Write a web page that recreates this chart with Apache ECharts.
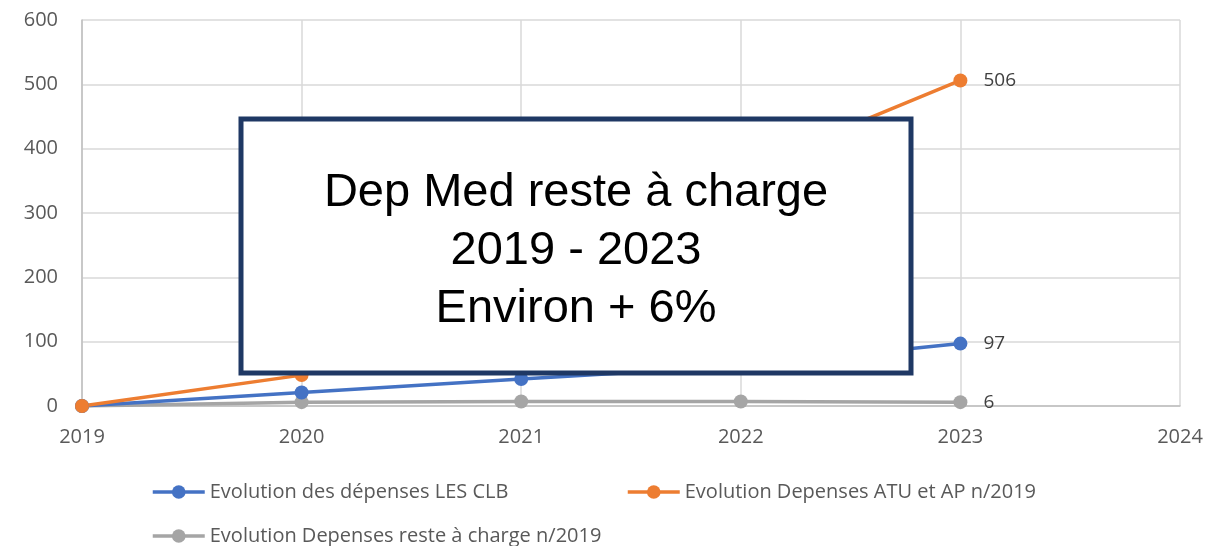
<!DOCTYPE html>
<html>
<head>
<meta charset="utf-8">
<script src="https://cdn.jsdelivr.net/npm/echarts@6/dist/echarts.min.js"></script>
<style>
  html, body { margin: 0; padding: 0; background: #fff; }
  #chart { width: 1230px; height: 546px; }
</style>
</head>
<body>
<div id="chart"></div>
<script>
// données
var years = [2019, 2020, 2021, 2022, 2023];
var depensesClb = [0, 21, 42, 62, 97];
var depensesAtu = [0, 48, 190, 365, 506];
var resteCharge = [0, 6, 7, 7, 6];
var seriesNames = [
  'Evolution des dépenses LES CLB',
  'Evolution Depenses ATU et AP n/2019',
  'Evolution Depenses reste à charge n/2019'
];
var colors = ['#4472c4', '#ed7d31', '#a5a5a5'];
var boxLines = ['Dep Med reste à charge', '2019 - 2023', 'Environ + 6%'];

var txtColor = '#595959';
var font = 'Open Sans';

function buildData(values) {
  return values.map(function (v, i) {
    var item = { value: [years[i], v] };
    // seule la dernière valeur est étiquetée
    if (i == values.length - 1) {
      item.label = { show: true };
    }
    return item;
  });
}

function lineSeries(idx, values) {
  return {
    name: seriesNames[idx],
    type: 'line',
    data: buildData(values),
    symbol: 'circle',
    symbolSize: 14,
    color: colors[idx],
    lineStyle: { width: 3.5, color: colors[idx] },
    itemStyle: { color: colors[idx] },
    label: {
      show: false,
      position: 'right',
      distance: 16,
      color: '#404040',
      fontSize: 19,
      fontFamily: font,
      formatter: function (p) { return p.value[1]; }
    },
    z: 2
  };
}

function legendAt(name, left, top) {
  return {
    data: [name],
    left: left,
    top: top,
    itemWidth: 52,
    itemHeight: 17,
    itemGap: 0,
    lineStyle: { width: 3.5 },
    textStyle: { color: txtColor, fontSize: 20, fontFamily: font },
    selectedMode: false
  };
}

var chart = echarts.init(document.getElementById('chart'));
chart.setOption({
  animation: false,
  grid: { left: 82, right: 50, top: 20, bottom: 140, containLabel: false },
  xAxis: {
    type: 'value',
    min: 2019,
    max: 2024,
    interval: 1,
    axisLine: { show: true, lineStyle: { color: '#bfbfbf', width: 1.5 } },
    axisTick: { show: false },
    splitLine: { show: true, lineStyle: { color: '#d9d9d9', width: 1.5 } },
    axisLabel: {
      color: txtColor, fontSize: 20, fontFamily: font, margin: 21,
      formatter: function (v) { return String(v); }
    }
  },
  yAxis: {
    type: 'value',
    min: 0,
    max: 600,
    interval: 100,
    axisLine: { show: true, lineStyle: { color: '#bfbfbf', width: 1.5 } },
    axisTick: { show: false },
    splitLine: { show: true, lineStyle: { color: '#d9d9d9', width: 1.5 } },
    axisLabel: { color: txtColor, fontSize: 20, fontFamily: font, margin: 24 }
  },
  legend: [
    legendAt(seriesNames[0], 146, 477),
    legendAt(seriesNames[1], 621, 477),
    legendAt(seriesNames[2], 146, 521)
  ],
  series: [
    lineSeries(2, resteCharge),
    lineSeries(0, depensesClb),
    lineSeries(1, depensesAtu)
  ],
  graphic: [{
    type: 'rect',
    zlevel: 1,
    z: 100,
    shape: { x: 241, y: 119, width: 670, height: 254 },
    style: { fill: '#ffffff', stroke: '#1f3864', lineWidth: 5 }
  }, {
    type: 'text',
    zlevel: 1,
    z: 101,
    x: 576,
    y: 251,
    style: {
      text: boxLines.join('\n'),
      fill: '#000',
      font: '47px "Liberation Sans", Arial, sans-serif',
      lineHeight: 58,
      align: 'center',
      verticalAlign: 'middle'
    }
  }]
});
</script>
</body>
</html>
